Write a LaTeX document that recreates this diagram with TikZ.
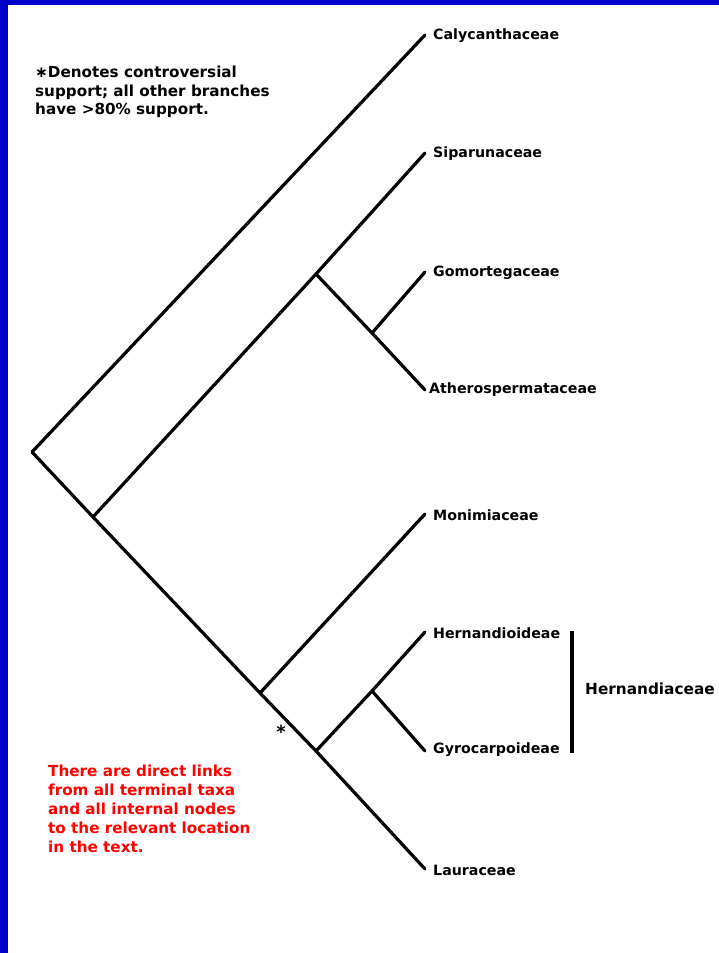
\documentclass[tikz,border=0pt]{standalone}
\usepackage{fontspec}
\setmainfont{DejaVu Sans}
\begin{document}
\begin{tikzpicture}[x=1pt,y=-1pt,
  branch/.style={line width=3.2pt,line cap=round,line join=round},
  taxon/.style={anchor=west,inner sep=0pt,font=\fontsize{14.2}{16}\selectfont\bfseries},
  note/.style={anchor=north west,inner sep=0pt,align=left,font=\fontsize{15.2}{18.6}\selectfont\bfseries}]
\definecolor{frameblue}{RGB}{0,0,204}
\definecolor{notered}{RGB}{255,0,0}
\useasboundingbox (0,0) rectangle (719,953);
\fill[white] (0,0) rectangle (719,953);
\fill[frameblue] (0,0) rectangle (8,953);
\fill[frameblue] (0,0) rectangle (719,5);
% internal nodes
\coordinate (R) at (32,452);
\coordinate (A) at (93,517);
\coordinate (B) at (316,274);
\coordinate (C) at (372,333);
\coordinate (D) at (260,693);
\coordinate (E) at (316,751);
\coordinate (F) at (372,691);
% tips
\coordinate (tCal) at (425,35);
\coordinate (tSip) at (425,153);
\coordinate (tGom) at (425,272);
\coordinate (tAth) at (425,390);
\coordinate (tMon) at (425,514);
\coordinate (tHer) at (425,632);
\coordinate (tGyr) at (425,751);
\coordinate (tLau) at (425,869);
% branches
\draw[branch] (tCal) -- (R) -- (A);
\draw[branch] (A) -- (D) -- (E) -- (tLau);
\draw[branch] (A) -- (B) -- (tSip);
\draw[branch] (B) -- (C) -- (tAth);
\draw[branch] (C) -- (tGom);
\draw[branch] (D) -- (tMon);
\draw[branch] (E) -- (F) -- (tHer);
\draw[branch] (F) -- (tGyr);
% labels
\node[taxon] (lCal) at (433,36) {Calycanthaceae};
\node[taxon] (lSip) at (433,154) {Siparunaceae};
\node[taxon] (lGom) at (433,273) {Gomortegaceae};
\node[taxon] (lAth) at (429,390) {Atherospermataceae};
\node[taxon] (lMon) at (433,515) {Monimiaceae};
\node[taxon] (lHer) at (433,633) {Hernandioideae};
\node[taxon] (lGyr) at (433,750) {Gyrocarpoideae};
\node[taxon] (lLau) at (433,870) {Lauraceae};
% Hernandiaceae bracket
\coordinate (bTop) at (572,631);
\coordinate (bBot) at (572,753);
\draw[line width=3.2pt] (bTop) -- (bBot);
\node[taxon,font=\fontsize{15.3}{18}\selectfont\bfseries] (lHfam) at (585,689) {Hernandiaceae};
% asterisk
\node[inner sep=0pt,font=\fontsize{18}{20}\selectfont\bfseries] (ast) at (281,732) {*};
% notes
\node[note] (legend) at (35,66) {∗Denotes controversial\\support; all other branches\\have >80\% support.};
\node[note,text=notered,font=\fontsize{15.2}{19}\selectfont\bfseries] (links) at (48,764.5) {There are direct links\\from all terminal taxa\\and all internal nodes\\to the relevant location\\in the text.};
\end{tikzpicture}
\end{document}
